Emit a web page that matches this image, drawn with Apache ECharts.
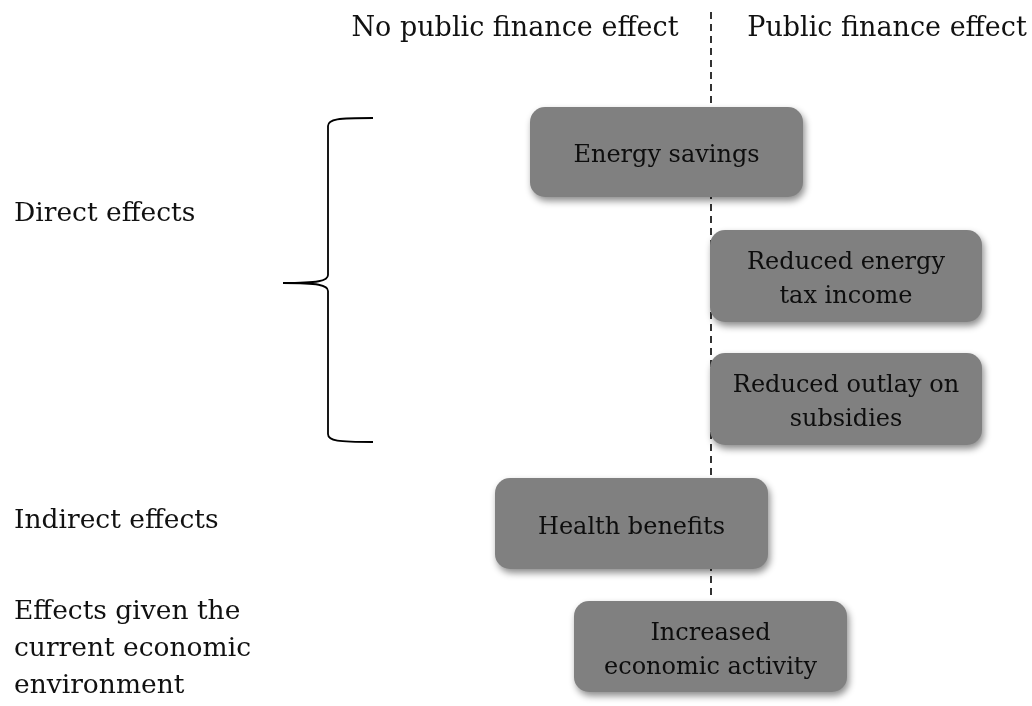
<!DOCTYPE html>
<html><head><meta charset="utf-8">
<script src="https://cdn.jsdelivr.net/npm/echarts@6/dist/echarts.min.js"></script>
<style>html,body{margin:0;padding:0;background:#fff}#c{width:1032px;height:706px}</style>
</head><body><div id="c"></div>
<script>
const FONT = 'DejaVu Serif';
// column headers
const headerLabels = ['No public finance effect', 'Public finance effect'];
const headerX = [515, 887];
const headerY = [29, 29];
// row labels on the left
const rowLabels = ['Direct effects', 'Indirect effects', 'Effects given the\ncurrent economic\nenvironment'];
const rowLabelX = [14, 14, 14];
const rowLabelY = [214, 521, 649];
// boxes
const boxLabels = ['Energy savings', 'Reduced energy\ntax income', 'Reduced outlay on\nsubsidies', 'Health benefits', 'Increased\neconomic activity'];
const boxStart = [530, 710, 710, 495, 574];
const boxEnd = [803, 982, 982, 768, 847];
const boxTop = [107, 230, 353, 478, 601];
const boxBottom = [197, 322, 445, 569, 692];
// divider between the two columns
const dividerX = 711;
const dividerTop = 12;
const dividerBottom = 600;
// brace grouping the direct effects
const braceTip = [283, 283];
const braceSpine = 328;
const braceEnd = 373;
const braceTop = 118;
const braceBottom = 442;

const chart = echarts.init(document.getElementById('c'));
const idx = boxLabels.map((_, i) => i);

chart.setOption({
  animation: false,
  grid: {left: 0, right: 0, top: 0, bottom: 0},
  xAxis: {type: 'value', min: 0, max: 1032, show: false},
  yAxis: {type: 'value', min: 0, max: 706, inverse: true, show: false},
  series: [
    {
      type: 'custom', z: 1, data: [[dividerX, dividerTop, dividerBottom]],
      renderItem: (p, api) => {
        const a = api.coord([api.value(0), api.value(1)]);
        const b = api.coord([api.value(0), api.value(2)]);
        return {type: 'line', shape: {x1: a[0], y1: a[1], x2: b[0], y2: b[1]},
          style: {stroke: '#000', lineWidth: 1.6, lineDash: [7, 5]}};
      }
    },
    {
      type: 'custom', z: 2,
      data: idx.map(i => [boxStart[i], boxTop[i], boxEnd[i], boxBottom[i], i]),
      renderItem: (p, api) => {
        const a = api.coord([api.value(0), api.value(1)]);
        const b = api.coord([api.value(2), api.value(3)]);
        const i = api.value(4);
        return {type: 'group', children: [
          {type: 'rect', shape: {x: a[0], y: a[1], width: b[0] - a[0], height: b[1] - a[1], r: 15},
            style: {fill: '#808080', shadowBlur: 7, shadowOffsetX: 2, shadowOffsetY: 4, shadowColor: 'rgba(0,0,0,0.45)'}},
          {type: 'text', x: (a[0] + b[0]) / 2, y: (a[1] + b[1]) / 2 + 4,
            style: {text: boxLabels[i], fill: '#0d0d0d', font: '24px "' + FONT + '"', align: 'center', verticalAlign: 'middle', lineHeight: 34}}
        ]};
      }
    },
    {
      type: 'custom', z: 3,
      data: headerLabels.map((_, i) => [headerX[i], headerY[i], i]),
      renderItem: (p, api) => {
        const a = api.coord([api.value(0), api.value(1)]);
        return {type: 'text', x: a[0], y: a[1],
          style: {text: headerLabels[api.value(2)], fill: '#111', font: '27px "' + FONT + '"', align: 'center', verticalAlign: 'middle'}};
      }
    },
    {
      type: 'custom', z: 3,
      data: rowLabels.map((_, i) => [rowLabelX[i], rowLabelY[i], i]),
      renderItem: (p, api) => {
        const a = api.coord([api.value(0), api.value(1)]);
        return {type: 'text', x: a[0], y: a[1],
          style: {text: rowLabels[api.value(2)], fill: '#111', font: '26.5px "' + FONT + '"', align: 'left', verticalAlign: 'middle', lineHeight: 37}};
      }
    },
    {
      type: 'custom', z: 3,
      data: [[braceTip[0], braceTip[1], braceSpine, braceEnd, braceTop, braceBottom]],
      renderItem: (p, api) => {
        const tip = api.coord([api.value(0), api.value(1)]);
        const sx = api.coord([api.value(2), 0])[0];
        const ex = api.coord([api.value(3), 0])[0];
        const ty = api.coord([0, api.value(4)])[1];
        const by = api.coord([0, api.value(5)])[1];
        const r = 8;
        const path = [
          'M', ex, ty,
          'C', sx + 10, ty, sx, ty + 1, sx, ty + r,
          'L', sx, tip[1] - r,
          'C', sx, tip[1] - 2, sx - 10, tip[1], tip[0], tip[1],
          'C', sx - 10, tip[1], sx, tip[1] + 2, sx, tip[1] + r,
          'L', sx, by - r,
          'C', sx, by - 1, sx + 10, by, ex, by
        ].join(' ');
        return {type: 'path', shape: {pathData: path},
          style: {stroke: '#000', lineWidth: 1.8, fill: null}};
      }
    }
  ]
});
</script>
</body></html>
